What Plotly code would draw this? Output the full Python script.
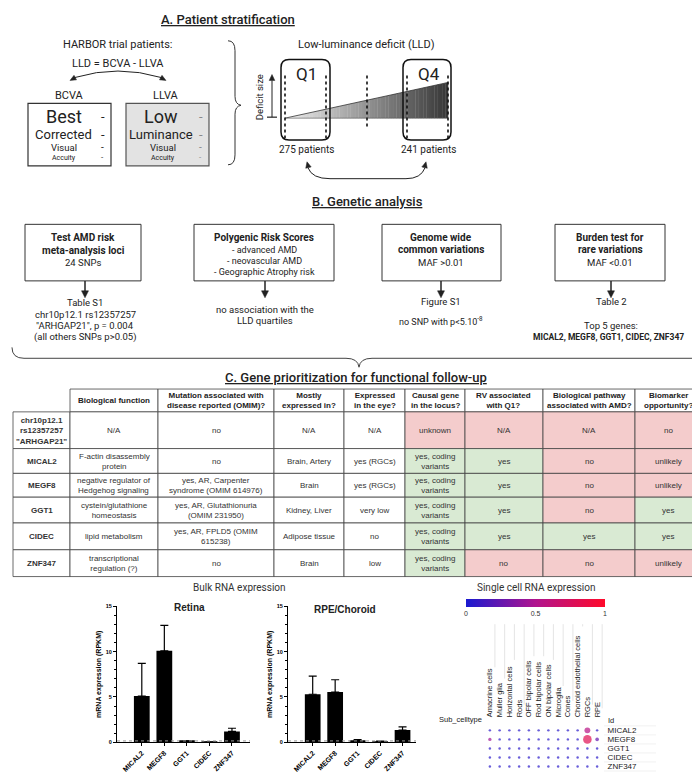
import plotly.graph_objects as go

W, H = 700, 772


def X(p):
    return p / W


def Y(p):
    return 1 - p / H


# ---------------- data ----------------
genes = ["MICAL2", "MEGF8", "GGT1", "CIDEC", "ZNF347"]
retina_mean = [5.1, 10.1, 0.12, 0.02, 1.2]
retina_upper = [8.7, 12.9, 0.16, 0.03, 1.55]
rpe_mean = [5.3, 5.55, 0.2, 0.08, 1.35]
rpe_upper = [7.3, 6.9, 0.3, 0.12, 1.7]
rpkm_ticks = [0, 5, 10, 15]

celltypes = ["Amacrine cells", "Muller glia", "Horizontal cells", "Rods",
             "OFF bipolar cells", "Rod bipolar cells", "ON bipolar cells",
             "Microglia", "Cones", "Choroid endothelial cells", "RGCs", "RPE"]
sc_avg = [
    [0.05, 0.05, 0.05, 0.05, 0.05, 0.05, 0.05, 0.05, 0.05, 0.05, 0.55, 0.05],
    [0.45, 0.05, 0.05, 0.05, 0.05, 0.05, 0.05, 0.05, 0.05, 0.05, 0.80, 0.25],
    [0.05, 0.05, 0.05, 0.05, 0.05, 0.05, 0.05, 0.05, 0.05, 0.05, 0.05, 0.05],
    [0.05, 0.05, 0.05, 0.05, 0.05, 0.05, 0.05, 0.05, 0.05, 0.05, 0.05, 0.05],
    [0.05, 0.05, 0.05, 0.05, 0.05, 0.05, 0.05, 0.05, 0.05, 0.05, 0.05, 0.05],
]
sc_pct = [
    [0.04, 0.04, 0.04, 0.04, 0.04, 0.04, 0.04, 0.04, 0.04, 0.04, 0.35, 0.04],
    [0.12, 0.04, 0.04, 0.04, 0.04, 0.04, 0.04, 0.04, 0.04, 0.04, 0.60, 0.15],
    [0.04, 0.04, 0.04, 0.04, 0.04, 0.04, 0.04, 0.04, 0.04, 0.04, 0.04, 0.04],
    [0.04, 0.04, 0.04, 0.04, 0.04, 0.04, 0.04, 0.04, 0.04, 0.04, 0.04, 0.04],
    [0.04, 0.04, 0.04, 0.04, 0.04, 0.04, 0.04, 0.04, 0.04, 0.04, 0.04, 0.04],
]
cbar_ticks = [0, 0.5, 1]
cbar_labels = ["0", "0.5", "1"]

table_header = ["", "Biological function", "Mutation associated with<br>disease reported (OMIM)?",
                "Mostly<br>expressed in?", "Expressed<br>in the eye?", "Causal gene<br>in the locus?",
                "RV associated<br>with Q1?", "Biological pathway<br>associated with AMD?",
                "Biomarker<br>opportunity?"]
row_labels = ['chr10p12.1<br>rs12357257<br>"ARHGAP21"', "MICAL2", "MEGF8", "GGT1", "CIDEC", "ZNF347"]
bio_function = ["N/A", "F-actin disassembly<br>protein", "negative regulator of<br>Hedgehog signaling",
                "cystein/glutathione<br>homeostasis", "lipid metabolism", "transcriptional<br>regulation (?)"]
omim = ["no", "no", "yes, AR, Carpenter<br>syndrome (OMIM 614976)", "yes, AR, Glutathionuria<br>(OMIM 231950)",
        "yes, AR, FPLD5 (OMIM<br>615238)", "no"]
mostly_expr = ["N/A", "Brain, Artery", "Brain", "Kidney, Liver", "Adipose tissue", "Brain"]
eye_expr = ["N/A", "yes (RGCs)", "yes (RGCs)", "very low", "no", "low"]
causal = ["unknown", "yes, coding<br>variants", "yes, coding<br>variants", "yes, coding<br>variants",
          "yes, coding<br>variants", "yes, coding<br>variants"]
rv_q1 = ["N/A", "yes", "yes", "yes", "yes", "no"]
pathway = ["N/A", "no", "no", "no", "yes", "no"]
biomarker = ["no", "unlikely", "unlikely", "yes", "yes", "unlikely"]
# verdicts: '+' favourable, '-' unfavourable, '' neutral
causal_v = ["-", "+", "+", "+", "+", "+"]
rv_v = ["-", "+", "+", "+", "+", "-"]
pathway_v = ["-", "-", "-", "-", "+", "-"]
biomarker_v = ["-", "-", "-", "+", "+", "-"]

# ---------------- helpers ----------------
shapes = []
annos = []
ROB = "Roboto"
ARI = "Liberation Sans, Arial"
INK = "#222222"


def pt(x, y):
    return f"{X(x):.5f},{Y(y):.5f}"


def text(x, y, s, size=10, color=INK, family=ROB, bold=False, xa="center", ya="middle", angle=0, under=False,
         weight=None):
    if not s:
        return
    f = dict(size=size, color=color, family=family)
    if bold:
        f["weight"] = "bold"
    if weight:
        f["weight"] = weight
    if under:
        f["lineposition"] = "under"
    annos.append(dict(x=X(x), y=Y(y), xref="paper", yref="paper", text=s, showarrow=False,
                      xanchor=xa, yanchor=ya, font=f, textangle=angle))


def rect(x0, y0, x1, y1, line="#333", lw=1, fill="rgba(0,0,0,0)"):
    shapes.append(dict(type="rect", xref="paper", yref="paper", x0=X(x0), x1=X(x1), y0=Y(y1), y1=Y(y0),
                       line=dict(color=line, width=lw), fillcolor=fill, layer="below"))


def line(x0, y0, x1, y1, color="#222", lw=1, dash="solid"):
    shapes.append(dict(type="line", xref="paper", yref="paper", x0=X(x0), x1=X(x1), y0=Y(y0), y1=Y(y1),
                       line=dict(color=color, width=lw, dash=dash)))


def path(d, color="#222", lw=1, fill="rgba(0,0,0,0)"):
    shapes.append(dict(type="path", xref="paper", yref="paper", path=d,
                       line=dict(color=color, width=lw), fillcolor=fill))


def arrowhead(tx, ty, dx, dy, L=6, w=3, color="#222"):
    n = (dx * dx + dy * dy) ** 0.5
    dx, dy = dx / n, dy / n
    bx, by = tx - L * dx, ty - L * dy
    px, py = -dy, dx
    d = f"M {pt(tx, ty)} L {pt(bx + w * px, by + w * py)} L {pt(bx - w * px, by - w * py)} Z"
    path(d, color=color, lw=0.5, fill=color)


def rounded(x0, y0, x1, y1, r=8, lw=1.5):
    d = (f"M {pt(x0 + r, y0)} L {pt(x1 - r, y0)} Q {pt(x1, y0)} {pt(x1, y0 + r)} "
         f"L {pt(x1, y1 - r)} Q {pt(x1, y1)} {pt(x1 - r, y1)} L {pt(x0 + r, y1)} "
         f"Q {pt(x0, y1)} {pt(x0, y1 - r)} L {pt(x0, y0 + r)} Q {pt(x0, y0)} {pt(x0 + r, y0)} Z")
    path(d, color="#111", lw=lw)


# ---------------- A. Patient stratification ----------------
text(220, 9, "A. Patient stratification", size=13, weight=500, under=True)
text(110, 34, "HARBOR trial patients:", size=11)
text(110, 53, "LLD = BCVA - LLVA", size=11)
path(f"M {pt(67, 67)} Q {pt(110, 54)} {pt(153, 67)}", lw=1)
arrowhead(62, 70, -1, 0.55, L=6, w=2.6)
arrowhead(158, 70, 1, 0.55, L=6, w=2.6)
text(62, 85, "BCVA", size=11)
text(158, 85, "LLVA", size=11)

rect(20, 93, 103, 156, line="#333", lw=1.2, fill="white")
rect(118, 93, 201, 156, line="#555", lw=1.2, fill="#e3e3e3")
text(56, 106, "Best", size=18)
text(55, 124, "Corrected", size=13)
text(56, 137.5, "Visual", size=9.5)
text(56, 148, "Accuity", size=7)
for yy, sz in [(106, 13), (124, 13), (137.5, 10), (148, 8)]:
    text(95, yy, "-", size=sz)
text(153, 106, "Low", size=18)
text(153, 124, "Luminance", size=13)
text(155, 137.5, "Visual", size=9.5)
text(155, 148, "Accuity", size=7)
for yy, sz in [(106, 13), (124, 13), (137.5, 10), (148, 8)]:
    text(193, yy, "-", size=sz, color="#888")

path(f"M {pt(220, 30)} Q {pt(227, 30)} {pt(227, 40)} L {pt(227, 86)} Q {pt(227, 94)} {pt(233, 95)} "
     f"Q {pt(227, 96)} {pt(227, 104)} L {pt(227, 145)} Q {pt(227, 155)} {pt(220, 155)}", color="#333", lw=1)

text(358, 34, "Low-luminance deficit (LLD)", size=11)
text(251, 87, "Deficit size", size=9.5, angle=-90)
line(264, 107, 264, 70, lw=1)
arrowhead(264, 64, 0, -1, L=6, w=2.8)
line(259, 107, 269, 107, lw=1.2)

# gradient triangle
x_tip, x_end, y_base, y_top = 277, 440, 108, 72
N = 60
for i in range(N):
    xa = x_tip + (x_end - x_tip) * i / N
    xb = x_tip + (x_end - x_tip) * (i + 1) / N
    ta = y_base - (xa - x_tip) * (y_base - y_top) / (x_end - x_tip)
    tb = y_base - (xb - x_tip) * (y_base - y_top) / (x_end - x_tip)
    t = (i + 0.5) / N
    g = int(240 - 185 * t)
    c = f"rgb({g},{g},{g})"
    shapes.append(dict(type="path", xref="paper", yref="paper",
                       path=f"M {pt(xa, y_base)} L {pt(xa, ta)} L {pt(xb + 0.3, tb)} L {pt(xb + 0.3, y_base)} Z",
                       line=dict(width=0), fillcolor=c))
line(x_tip, y_base, x_end, y_top, color="#333", lw=0.8)
line(x_tip, y_base, x_end, y_base, color="#555", lw=0.6)

for xx, y1 in [(277, 128), (318, 128), (359, 117), (399, 128), (440, 128)]:
    line(xx, 65, xx, y1, color="#111", lw=1.6, dash="dot")
rounded(273, 49, 322, 130)
rounded(395, 49, 443, 130)
text(298, 63, "Q1", size=17)
text(421, 63, "Q4", size=17)
text(298, 140, "275 patients", size=10)
text(420, 140, "241 patients", size=10)
path(f"M {pt(300, 158)} Q {pt(304, 169)} {pt(322, 169)} L {pt(398, 169)} Q {pt(413, 169)} {pt(417, 158)}", lw=1)
arrowhead(299, 152, -0.25, -1, L=6, w=2.8)
arrowhead(418, 152, 0.25, -1, L=6, w=2.8)

# ---------------- B. Genetic analysis ----------------
text(360, 192, "B. Genetic analysis", size=13, weight=500, under=True)
boxes = [(17, 133), (186, 326), (374, 493), (547, 657)]
for x0, x1 in boxes:
    rect(x0, 215, x1, 272, line="#333", lw=1)
text(75, 228, "Test AMD risk", size=10, bold=True)
text(75, 241, "meta-analysis loci", size=10, bold=True)
text(75, 253, "24 SNPs", size=9.5)
text(256, 228, "Polygenic Risk Scores", size=10, bold=True)
text(256, 241, "- advanced AMD", size=9)
text(256, 252, "- neovascular AMD", size=9)
text(256, 263, "- Geographic Atrophy risk", size=9)
text(433, 228, "Genome wide", size=10, bold=True)
text(433, 240, "common variations", size=10, bold=True)
text(433, 253, "MAF >0.01", size=9.5)
text(602, 228, "Burden test for", size=10, bold=True)
text(602, 240, "rare variations", size=10, bold=True)
text(602, 253, "MAF <0.01", size=9.5)
for xx in [77, 257, 433, 603]:
    line(xx, 272, xx, 283, lw=1.5)
    arrowhead(xx, 289, 0, 1, L=7, w=3.5)

text(77, 294, "Table S1", size=9.5)
text(77, 306, "chr10p12.1 rs12357257", size=9.5)
text(77, 317, '"ARHGAP21", p = 0.004', size=9.5)
text(77, 329, "(all others SNPs p>0.05)", size=9.5)
text(257, 301, "no association with the", size=9.5)
text(257, 312, "LLD quartiles", size=9.5)
text(433, 293, "Figure S1", size=9.5)
text(433, 312, "no SNP with p<5.10<sup>-8</sup>", size=9)
text(603, 293, "Table 2", size=9.5)
text(603, 317, "Top 5 genes:", size=9.5)
text(600, 329, "MICAL2, MEGF8, GGT1, CIDEC, ZNF347", size=8.5, bold=True)

path(f"M {pt(4, 339)} Q {pt(4, 350)} {pt(16, 350)} L {pt(338, 350)} Q {pt(350, 350)} {pt(351, 359)} "
     f"Q {pt(352, 350)} {pt(364, 350)} L {pt(684, 350)} Q {pt(696, 350)} {pt(696, 339)}", color="#444", lw=1)

# ---------------- C. table ----------------
text(348, 369, "C. Gene prioritization for functional follow-up", size=13, weight=500, under=True)
col_x = [5, 62, 150, 266, 336, 397, 457, 535, 627, 693]
row_y = [381, 404, 441, 466, 490, 516, 543, 570]
PINK, GREEN = "#f4cccc", "#d9ead3"
vcol = {"+": GREEN, "-": PINK, "": "white"}
columns = [row_labels, bio_function, omim, mostly_expr, eye_expr, causal, rv_q1, pathway, biomarker]
verdicts = [None, None, None, None, None, causal_v, rv_v, pathway_v, biomarker_v]
for c in range(1, 9):
    rect(col_x[c], row_y[0], col_x[c + 1], row_y[1], line="#444", lw=0.8, fill="white")
    text((col_x[c] + col_x[c + 1]) / 2, (row_y[0] + row_y[1]) / 2 + 0.5, table_header[c], size=8,
         family=ARI, bold=True, color="#222")
for r in range(6):
    for c in range(9):
        v = verdicts[c][r] if verdicts[c] else ""
        rect(col_x[c], row_y[r + 1], col_x[c + 1], row_y[r + 2], line="#444", lw=0.8, fill=vcol[v])
        text((col_x[c] + col_x[c + 1]) / 2, (row_y[r + 1] + row_y[r + 2]) / 2 + 0.5, columns[c][r],
             size=8, family=ARI, bold=(c == 0), color="#333")

# ---------------- D. expression panels ----------------
text(232, 581, "Bulk RNA expression", size=10, color="#333")
text(528, 581, "Single cell RNA expression", size=10, color="#333")
text(181, 601, "Retina", size=10, family=ARI, bold=True)
text(337, 603, "RPE/Choroid", size=10, family=ARI, bold=True)


def err(m, u):
    return [b - a for a, b in zip(m, u)]


data = [
    go.Bar(x=list(range(5)), y=retina_mean, width=0.7, marker=dict(color="black", line=dict(width=0)),
           error_y=dict(type="data", array=err(retina_mean, retina_upper), arrayminus=[0] * 5,
                        symmetric=False, thickness=1.2, width=4, color="black"),
           xaxis="x", yaxis="y"),
    go.Bar(x=list(range(5)), y=rpe_mean, width=0.7, marker=dict(color="black", line=dict(width=0)),
           error_y=dict(type="data", array=err(rpe_mean, rpe_upper), arrayminus=[0] * 5,
                        symmetric=False, thickness=1.2, width=4, color="black"),
           xaxis="x2", yaxis="y2"),
]

sx, sy, ss, sc = [], [], [], []
for gi in range(len(genes)):
    for ci in range(len(celltypes)):
        sx.append(ci)
        sy.append(gi)
        ss.append(2 + 11 * sc_pct[gi][ci])
        sc.append(sc_avg[gi][ci])
data.append(go.Scatter(
    x=sx, y=sy, mode="markers", xaxis="x3", yaxis="y3",
    marker=dict(size=ss, color=sc, cmin=0, cmax=1,
                colorscale=[[0, "#1a1ad0"], [0.5, "#b0148e"], [1, "#ff0a2a"]],
                line=dict(width=0),
                colorbar=dict(orientation="h", x=X(527.5), xanchor="center", y=Y(593), yanchor="top",
                              len=139, lenmode="pixels", thickness=8, thicknessmode="pixels",
                              tickvals=cbar_ticks, ticktext=cbar_labels, ticks="",
                              tickfont=dict(size=7, family=ARI, color="#333"),
                              outlinewidth=0, xpad=0, ypad=0)),
    hoverinfo="skip"))

ROW0, DROW = 725, 9.1
# light guide lines for dot plot columns
for ci, name in enumerate(celltypes):
    cx = 482 + 9.75 * ci + 4.9
    top = ROW0 - 11 - len(name) * 3.75
    line(cx, 618, cx, top, color="#dddddd", lw=0.8)
for gi in range(len(genes) + 1):
    yy = ROW0 - DROW / 2 + DROW * gi
    line(596, yy, 648, yy, color="#eeeeee", lw=0.8)

text(476, ROW0 - 11, "Sub_celltype", size=7.5, family=ARI, xa="right", color="#222")
text(598, ROW0 - 10, "Id", size=7.5, family=ARI, xa="left", color="#222")


def bar_xaxis(dom, rng):
    return dict(domain=dom, range=rng, tickvals=list(range(5)), ticktext=genes, tickangle=-45,
                tickfont=dict(size=7, family=ARI, color="black", weight="bold"),
                showline=True, linecolor="black", linewidth=1.2, ticks="outside", ticklen=3,
                tickcolor="black", showgrid=False, zeroline=False, fixedrange=True)


def bar_yaxis(dom, anchor):
    return dict(domain=dom, range=[0, 15], tickvals=rpkm_ticks, anchor=anchor,
                tickfont=dict(size=5.5, family=ARI, color="black", weight="bold"),
                showline=True, linecolor="black", linewidth=1.2, ticks="outside", ticklen=3,
                tickcolor="black", minor=dict(dtick=1, ticks="outside", ticklen=1.5, tickcolor="black"),
                showgrid=False, zeroline=False,
                title=dict(text="mRNA expression (RPKM)", standoff=3,
                           font=dict(size=7, family=ARI, color="black", weight="bold")))


ydom = [Y(737), Y(600)]
for xr, yr in [("x", "y"), ("x2", "y2")]:
    shapes.append(dict(type="line", xref=f"{xr} domain", yref=yr, x0=0, x1=1, y0=0.15, y1=0.15,
                       line=dict(color="#999", width=1, dash="dot")))

layout = go.Layout(
    width=W, height=H, margin=dict(l=0, r=0, t=0, b=0),
    paper_bgcolor="white", plot_bgcolor="rgba(0,0,0,0)", showlegend=False,
    font=dict(family=ROB, color=INK),
    xaxis=dict(bar_xaxis([X(109), X(242)], [-1.1, 4.8]), anchor="y"),
    yaxis=bar_yaxis(ydom, "x"),
    xaxis2=dict(bar_xaxis([X(280), X(408)], [-1.1, 4.6]), anchor="y2"),
    yaxis2=bar_yaxis(ydom, "x2"),
    xaxis3=dict(domain=[X(477), X(594)], range=[-0.5, 11.5], anchor="y3", side="top",
                tickvals=list(range(12)), ticktext=celltypes, tickangle=-90,
                tickfont=dict(size=7.5, family=ARI, color="#222"), ticks="outside", ticklen=6,
                tickcolor="rgba(0,0,0,0)", showgrid=False, zeroline=False, showline=False),
    yaxis3=dict(domain=[Y(ROW0 + DROW * 4.5), Y(ROW0 - DROW / 2)], range=[4.5, -0.5], anchor="x3",
                side="right", tickvals=list(range(5)), ticktext=genes,
                tickfont=dict(size=8, family=ARI, color="#222"), ticks="outside", ticklen=3,
                tickcolor="rgba(0,0,0,0)", showgrid=False, zeroline=False, showline=False),
    shapes=shapes, annotations=annos, bargap=0.3,
)

fig = go.Figure(data=data, layout=layout)
fig.write_html("out.html")
